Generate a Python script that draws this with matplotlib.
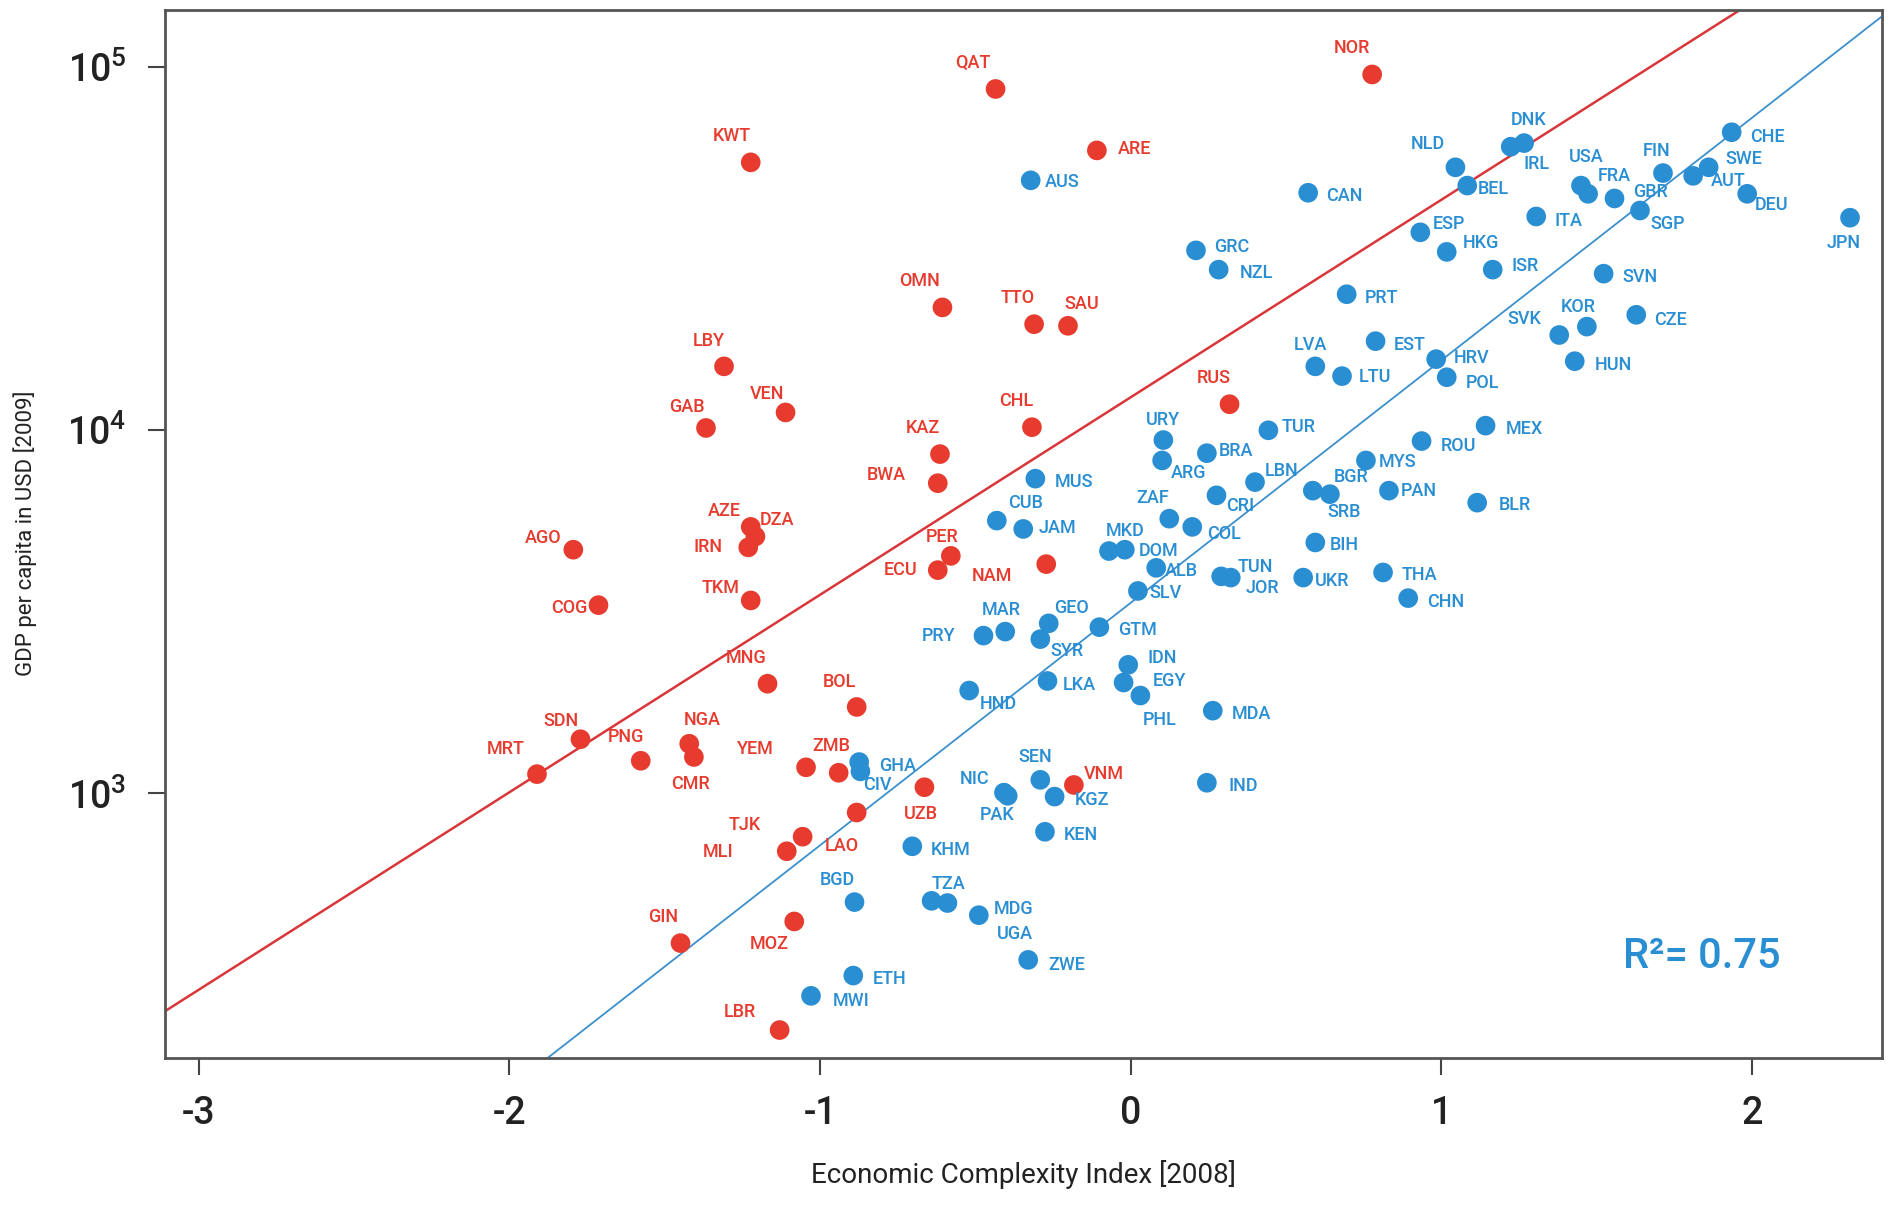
import numpy as np
import matplotlib.pyplot as plt

plt.rcParams['font.family'] = ['Roboto', 'DejaVu Sans']
plt.rcParams['mathtext.fontset'] = 'custom'
plt.rcParams['mathtext.rm'] = 'Roboto'

# countries above the red line (resource rich) - ECI 2008 and GDP per capita 2009
red_codes = ['QAT', 'NOR', 'KWT', 'ARE', 'OMN', 'TTO', 'SAU', 'LBY', 'VEN', 'GAB',
             'CHL', 'RUS', 'KAZ', 'BWA', 'AZE', 'DZA', 'IRN', 'AGO', 'COG', 'TKM',
             'PER', 'ECU', 'NAM', 'MNG', 'BOL', 'SDN', 'MRT', 'PNG', 'NGA', 'CMR',
             'YEM', 'ZMB', 'UZB', 'LAO', 'TJK', 'MLI', 'GIN', 'MOZ', 'LBR', 'VNM']
red_eci = [-0.435, 0.777, -1.223, -0.109, -0.606, -0.311, -0.202, -1.309, -1.111, -1.367,
           -0.318, 0.318, -0.614, -0.621, -1.223, -1.208, -1.231, -1.794, -1.713, -1.223,
           -0.579, -0.621, -0.272, -1.169, -0.882, -1.771, -1.911, -1.577, -1.421, -1.406,
           -1.045, -0.940, -0.664, -0.882, -1.056, -1.107, -1.449, -1.083, -1.130, -0.183]
red_gdp = [87100, 95500, 54700, 59000, 21800, 19600, 19400, 15000, 11200, 10150,
           10200, 11800, 8600, 7150, 5420, 5100, 4760, 4690, 3300, 3400,
           4510, 4120, 4280, 2005, 1730, 1410, 1130, 1230, 1370, 1260,
           1180, 1140, 1040, 886, 760, 693, 387, 444, 223, 1055]

blue_codes = ['AUS', 'CAN', 'DNK', 'IRL', 'NLD', 'BEL', 'USA', 'FRA', 'GBR', 'SGP',
              'ITA', 'FIN', 'AUT', 'SWE', 'CHE', 'DEU', 'JPN', 'ESP', 'HKG', 'ISR',
              'GRC', 'NZL', 'PRT', 'SVN', 'KOR', 'SVK', 'CZE', 'HUN', 'LVA', 'LTU',
              'EST', 'HRV', 'POL', 'MEX', 'ROU', 'MYS', 'BGR', 'SRB', 'PAN', 'BLR',
              'BIH', 'UKR', 'THA', 'CHN', 'URY', 'ARG', 'BRA', 'TUR', 'LBN', 'CRI',
              'ZAF', 'COL', 'MUS', 'CUB', 'JAM', 'MKD', 'DOM', 'ALB', 'SLV', 'TUN',
              'JOR', 'MAR', 'PRY', 'GEO', 'SYR', 'GTM', 'IDN', 'EGY', 'PHL', 'LKA',
              'HND', 'MDA', 'IND', 'GHA', 'CIV', 'NIC', 'PAK', 'SEN', 'KGZ', 'KEN',
              'KHM', 'BGD', 'TZA', 'UGA', 'MDG', 'ZWE', 'ETH', 'MWI']
blue_eci = [-0.322, 0.571, 1.266, 1.223, 1.045, 1.083, 1.449, 1.472, 1.557, 1.639,
            1.305, 1.713, 1.810, 1.860, 1.934, 1.984, 2.315, 0.932, 1.017, 1.165,
            0.210, 0.283, 0.695, 1.522, 1.468, 1.379, 1.627, 1.429, 0.594, 0.680,
            0.788, 0.983, 1.017, 1.142, 0.936, 0.757, 0.586, 0.641, 0.831, 1.115,
            0.594, 0.555, 0.812, 0.893, 0.105, 0.101, 0.245, 0.443, 0.400, 0.276,
            0.124, 0.198, -0.307, -0.431, -0.346, -0.070, -0.019, 0.082, 0.023, 0.291,
            0.322, -0.404, -0.474, -0.264, -0.291, -0.101, -0.008, -0.023, 0.031, -0.268,
            -0.520, 0.264, 0.245, -0.874, -0.870, -0.408, -0.396, -0.291, -0.245, -0.276,
            -0.703, -0.889, -0.641, -0.590, -0.489, -0.330, -0.893, -1.029]
blue_gdp = [48800, 45100, 61800, 60400, 53000, 47200, 47200, 44800, 43500, 40300,
            38800, 51100, 50200, 53000, 66200, 44800, 38500, 35100, 31000, 27700,
            31300, 27700, 23700, 27000, 19300, 18300, 20800, 15500, 15000, 14100,
            17600, 15700, 14000, 10300, 9340, 8260, 6820, 6670, 6820, 6320,
            4910, 3930, 4060, 3450, 9400, 8260, 8650, 10000, 7200, 6620,
            5710, 5420, 7360, 5640, 5350, 4650, 4690, 4180, 3610, 3960,
            3930, 2790, 2720, 2940, 2660, 2870, 2260, 2020, 1860, 2040,
            1920, 1690, 1070, 1220, 1150, 1005, 985, 1090, 980, 784,
            715, 502, 506, 499, 462, 348, 315, 277]

# fit lines: log10(gdp) = a + b * eci
red_fit = (4.091, 0.544)
blue_fit = (3.525, 0.668)
r2_text = 'R²= 0.75'

# label offsets (right, down) in reference pixels
red_offsets = {
    'QAT': (-19, -22), 'NOR': (-17, -22), 'KWT': (-16, -22), 'ARE': (31, -1), 'OMN': (-19, -22),
    'TTO': (-14, -22), 'SAU': (11, -18), 'LBY': (-13, -21), 'VEN': (-15, -15), 'GAB': (-16, -17),
    'CHL': (-13, -22), 'RUS': (-13, -22), 'KAZ': (-14, -22), 'BWA': (-43, -7), 'AZE': (-22, -13),
    'DZA': (18, -14), 'IRN': (-33, 0), 'AGO': (-25, -10), 'COG': (-24, 2), 'TKM': (-25, -10),
    'PER': (-7, -16), 'ECU': (-31, 0), 'NAM': (-45, 10), 'MNG': (-18, -21), 'BOL': (-14, -21),
    'SDN': (-16, -15), 'MRT': (-26, -21), 'PNG': (-12, -20), 'NGA': (11, -20), 'CMR': (-3, 22),
    'YEM': (-42, -15), 'ZMB': (-6, -22), 'UZB': (-3, 22), 'LAO': (-12, 28), 'TJK': (-48, -10),
    'MLI': (-57, 1), 'GIN': (-14, -22), 'MOZ': (-21, 19), 'LBR': (-33, -15), 'VNM': (25, -9)}
blue_offsets = {
    'AUS': (26, 1), 'CAN': (30, 3), 'DNK': (4, -19), 'IRL': (21, 14), 'NLD': (-23, -19),
    'BEL': (22, 3), 'USA': (4, -24), 'FRA': (22, -15), 'GBR': (30, -5), 'SGP': (23, 11),
    'ITA': (27, 4), 'FIN': (-5, -18), 'AUT': (29, 4), 'SWE': (29, -7), 'CHE': (30, 4),
    'DEU': (20, 9), 'JPN': (-5, 21), 'ESP': (24, -7), 'HKG': (28, -7), 'ISR': (27, -3),
    'GRC': (30, -3), 'NZL': (31, 3), 'PRT': (29, 3), 'SVN': (30, 3), 'KOR': (-7, -16),
    'SVK': (-29, -13), 'CZE': (28, 4), 'HUN': (32, 3), 'LVA': (-4, -18), 'LTU': (27, 1),
    'EST': (28, 3), 'HRV': (29, -1), 'POL': (30, 5), 'MEX': (32, 3), 'ROU': (31, 4),
    'MYS': (26, 1), 'BGR': (32, -11), 'SRB': (12, 15), 'PAN': (25, 0), 'BLR': (31, 2),
    'BIH': (24, 2), 'UKR': (24, 3), 'THA': (30, 2), 'CHN': (31, 3), 'URY': (0, -17),
    'ARG': (22, 10), 'BRA': (24, -2), 'TUR': (25, -3), 'LBN': (22, -9), 'CRI': (20, 9),
    'ZAF': (-14, -17), 'COL': (26, 6), 'MUS': (32, 3), 'CUB': (24, -15), 'JAM': (28, -1),
    'MKD': (13, -17), 'DOM': (28, 1), 'ALB': (21, 3), 'SLV': (23, 2), 'TUN': (28, -8),
    'JOR': (26, 9), 'MAR': (-3, -18), 'PRY': (-37, 0), 'GEO': (19, -13), 'SYR': (22, 10),
    'GTM': (32, 2), 'IDN': (28, -6), 'EGY': (38, -1), 'PHL': (16, 20), 'LKA': (26, 3),
    'HND': (24, 11), 'MDA': (32, 3), 'IND': (30, 3), 'GHA': (32, 3), 'CIV': (14, 11),
    'NIC': (-24, -11), 'PAK': (-9, 16), 'SEN': (-4, -19), 'KGZ': (31, 3), 'KEN': (30, 3),
    'KHM': (32, 3), 'BGD': (-14, -18), 'TZA': (14, -14), 'UGA': (56, 26), 'MDG': (29, -5),
    'ZWE': (32, 4), 'ETH': (30, 3), 'MWI': (33, 4)}

red = '#e63b2e'
blue = '#2a8ed3'
px2pt = 0.869

fig = plt.figure(figsize=(18.92, 12.11), dpi=100)
ax = fig.add_axes([0.0874, 0.1265, 0.9075, 0.8655])
ax.set_yscale('log')
ax.set_xlim(-3.107, 2.419)
ax.set_ylim(187, 144000)

xx = np.linspace(-3.2, 2.5, 50)
ax.plot(xx, 10 ** (red_fit[0] + red_fit[1] * xx), color='#d9363a', lw=1.8, zorder=1)
ax.plot(xx, 10 ** (blue_fit[0] + blue_fit[1] * xx), color='#3b90cc', lw=1.3, zorder=1)

ax.scatter(red_eci, red_gdp, s=200, color=red, edgecolors='none', zorder=3)
ax.scatter(blue_eci, blue_gdp, s=200, color=blue, edgecolors='none', zorder=3)

for codes, xs, ys, offs, col in [(red_codes, red_eci, red_gdp, red_offsets, red),
                                  (blue_codes, blue_eci, blue_gdp, blue_offsets, blue)]:
    for c, x, y in zip(codes, xs, ys):
        dx, dy = offs[c]
        ax.annotate(c, (x, y), xytext=(dx * px2pt, -dy * px2pt), textcoords='offset points',
                    ha='center', va='center', fontsize=13, fontweight='medium',
                    color=col, zorder=4)

ax.text(0.895, 0.097, r2_text, transform=ax.transAxes, ha='center', va='center',
        fontsize=30, fontweight='medium', color=blue)

ax.set_xticks([-3, -2, -1, 0, 1, 2])
ax.set_xticklabels(['-3', '-2', '-1', '0', '1', '2'])
ax.set_yticks([1e3, 1e4, 1e5])
ax.set_yticklabels([r'$\mathregular{10^3}$', r'$\mathregular{10^4}$', r'$\mathregular{10^5}$'])
ax.minorticks_off()
ax.tick_params(axis='both', direction='out', length=12, width=1.5, color='#444444',
               labelsize=27, labelcolor='#222222')
ax.tick_params(axis='x', pad=15)
ax.tick_params(axis='y', pad=16)
for lab in ax.get_xticklabels() + ax.get_yticklabels():
    lab.set_fontweight('medium')
for sp in ax.spines.values():
    sp.set_color('#555555')
    sp.set_linewidth(2)

ax.set_xlabel('Economic Complexity Index [2008]', fontsize=20, color='#222222', labelpad=20)
ax.set_ylabel('GDP per capita in USD [2009]', fontsize=16, color='#222222', labelpad=22)

fig.savefig('out.png', dpi=100, facecolor='white')
